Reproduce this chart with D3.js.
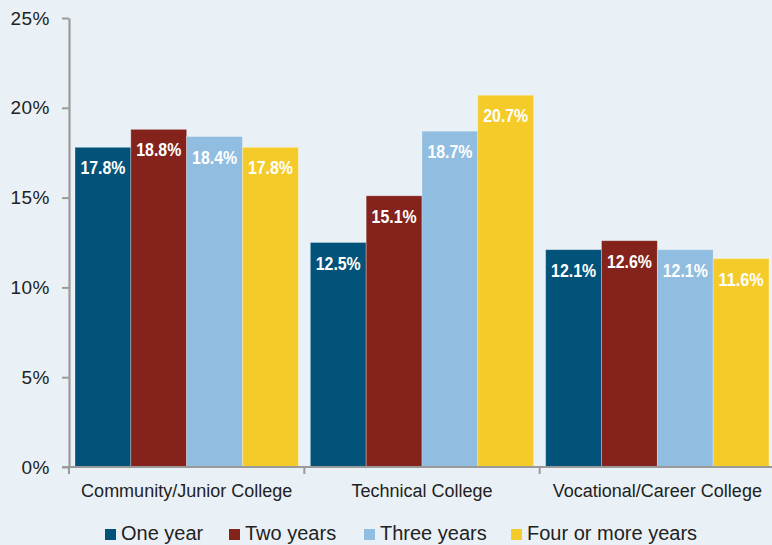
<!DOCTYPE html>
<html><head><meta charset="utf-8">
<script src="https://cdn.jsdelivr.net/npm/d3@7"></script>
<style>
html,body{margin:0;padding:0;background:#eaf1f6;}
svg{display:block;font-family:"Liberation Sans",Arial,Helvetica,sans-serif;}
</style></head>
<body>
<svg id="chart" width="772" height="545"></svg>
<script>
const categories = ["Community/Junior College", "Technical College", "Vocational/Career College"];
const seriesNames = ["One year", "Two years", "Three years", "Four or more years"];
const oneYear = [17.8, 12.5, 12.1];
const twoYears = [18.8, 15.1, 12.6];
const threeYears = [18.4, 18.7, 12.1];
const fourYears = [17.8, 20.7, 11.6];
const yTicks = [0, 5, 10, 15, 20, 25];
const colors = ["#03527a", "#84231b", "#91bde0", "#f5cb2a"];

const series = [oneYear, twoYears, threeYears, fourYears];
const svg = d3.select("#chart");
svg.append("rect").attr("width", 772).attr("height", 545).attr("fill", "#eaf1f6");

const y = d3.scaleLinear().domain([0, 25]).range([467, 18]);
const x = d3.scaleBand().domain(categories).range([69, 775]).paddingInner(0).paddingOuter(0);
const xi = d3.scaleBand().domain(d3.range(series.length)).range([6, x.bandwidth() - 6]);

// bars
const groups = svg.append("g").selectAll("g").data(categories).join("g")
  .attr("transform", c => `translate(${x(c)},0)`);
groups.each(function(c, ci) {
  const g = d3.select(this);
  series.forEach((s, si) => {
    const v = s[ci];
    g.append("rect")
      .attr("x", xi(si)).attr("width", xi.bandwidth())
      .attr("y", y(v)).attr("height", y(0) - y(v))
      .attr("fill", colors[si])
      .attr("stroke", "rgba(255,255,255,0.35)").attr("stroke-width", 0.8);
    g.append("text")
      .attr("x", xi(si) + xi.bandwidth() / 2).attr("y", y(v) + 27)
      .attr("text-anchor", "middle").attr("fill", "#fff")
      .attr("font-weight", "bold").attr("font-size", "18px")
      .attr("textLength", 45).attr("lengthAdjust", "spacingAndGlyphs")
      .text(v.toFixed(1) + "%");
  });
});

// y axis
const yAxis = svg.append("g").attr("transform", "translate(69,0)")
  .call(d3.axisLeft(y).tickValues(yTicks).tickFormat(d => d + "%").tickSize(7).tickSizeOuter(0));
yAxis.select(".domain").attr("stroke", "#9a9a9a").attr("stroke-width", 2.2);
yAxis.selectAll(".tick line").attr("stroke", "#9a9a9a").attr("stroke-width", 2);
yAxis.selectAll(".tick text").attr("font-size", "19px").attr("fill", "#222")
  .attr("x", -19).attr("font-family", "'Liberation Sans',Arial,sans-serif").attr("letter-spacing", "0.5px");

// x axis
const xAxis = svg.append("g").attr("transform", "translate(0,467)")
  .call(d3.axisBottom(x).tickSize(0).tickSizeOuter(0));
xAxis.select(".domain").attr("stroke", "#9a9a9a").attr("stroke-width", 2.2)
  .attr("d", "M62,0H772");
xAxis.selectAll(".tick text").attr("font-size", "18px").attr("fill", "#222")
  .attr("y", 30).attr("dy", 0).attr("font-family", "'Liberation Sans',Arial,sans-serif");
const bounds = categories.map(c => x(c));
svg.append("g").selectAll("line").data(bounds).join("line")
  .attr("x1", d => d).attr("x2", d => d).attr("y1", 467).attr("y2", 474)
  .attr("stroke", "#9a9a9a").attr("stroke-width", 2);

// legend
const legendX = [105, 229, 364, 511];
const lg = svg.append("g").selectAll("g").data(seriesNames).join("g")
  .attr("transform", (d, i) => `translate(${legendX[i]},0)`);
lg.append("rect").attr("x", 0).attr("y", 529).attr("width", 11).attr("height", 11)
  .attr("fill", (d, i) => colors[i]);
lg.append("text").attr("x", 16).attr("y", 540).attr("font-size", "20px").attr("fill", "#222")
  .text(d => d);
</script>
</body></html>
